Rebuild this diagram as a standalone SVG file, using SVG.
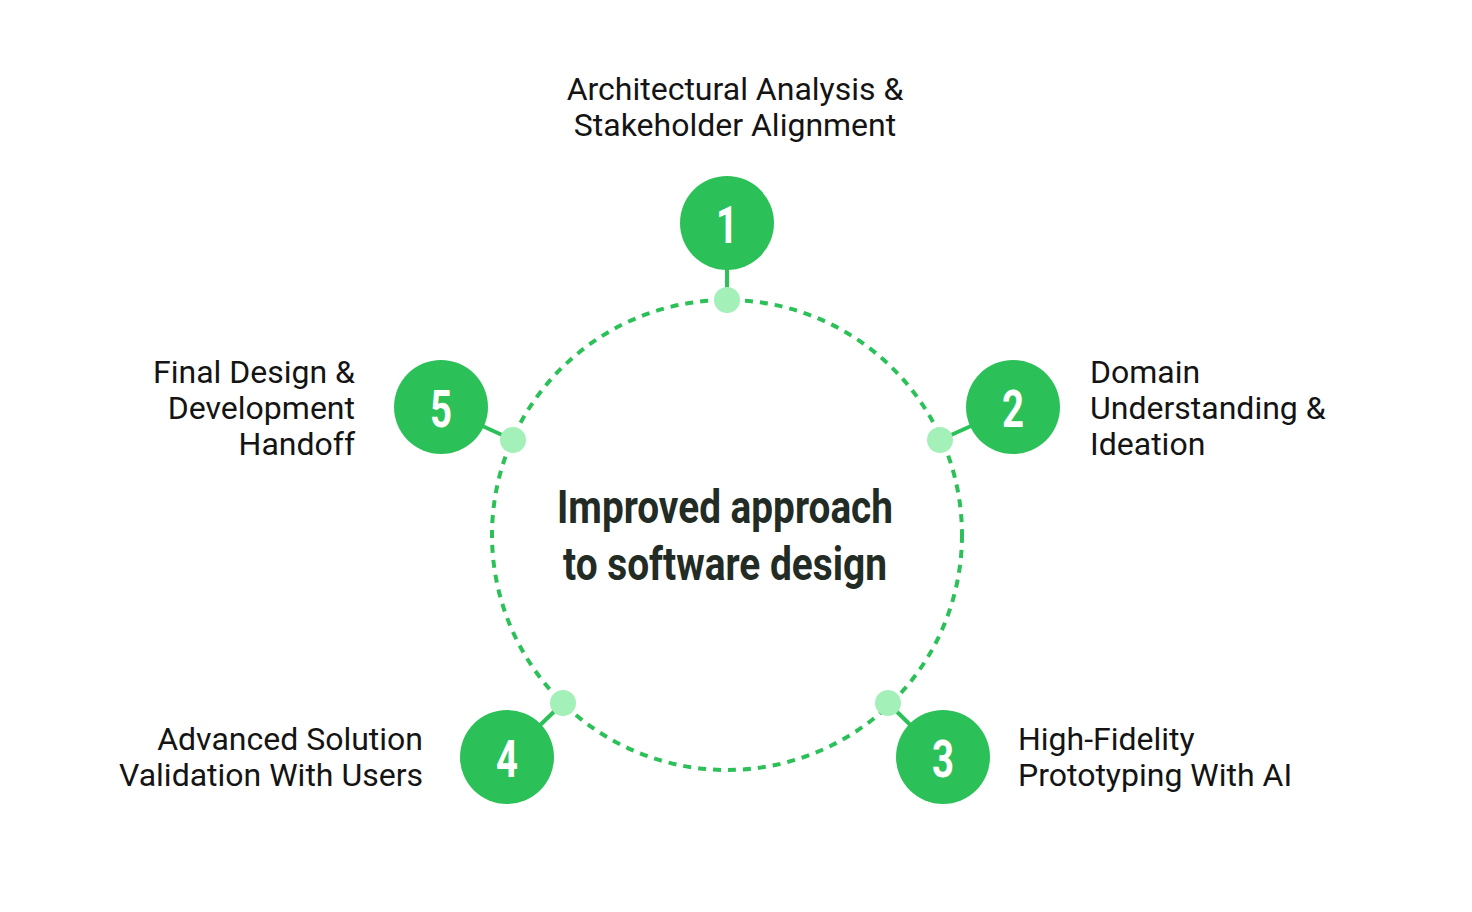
<svg xmlns="http://www.w3.org/2000/svg" width="1472" height="912" viewBox="0 0 1472 912">
  <style>
    .node { fill: #2CC158; }
    .dot { fill: #A3F0B9; }
    .link { stroke: #2CC158; stroke-width: 4; fill: none; }
    .num { font-family: Roboto, "Liberation Sans", sans-serif; font-weight: 700; font-size: 52px; fill: #ffffff; text-anchor: middle; dominant-baseline: central; }
    .label { font-family: Roboto, "Liberation Sans", sans-serif; font-size: 32px; fill: #141414; }
    .title { font-family: Roboto, "Liberation Sans", sans-serif; font-weight: 700; font-size: 46px; fill: #232B25; text-anchor: middle; }
  </style>
  <rect width="1472" height="912" fill="#ffffff"/>
  <g id="connectors">
    <circle cx="727" cy="535" r="235" fill="none" stroke="#2CC158" stroke-width="4" stroke-dasharray="8 7"/>
    <line class="link" x1="727" y1="223" x2="727" y2="300"/>
    <line class="link" x1="1013" y1="407" x2="940" y2="440"/>
    <line class="link" x1="943" y1="757" x2="888" y2="703"/>
    <line class="link" x1="507" y1="757" x2="563" y2="703"/>
    <line class="link" x1="441" y1="407" x2="513" y2="440"/>
  </g>
  <g id="center">
    <text class="title" x="725" y="523" textLength="336" lengthAdjust="spacingAndGlyphs">Improved approach</text>
    <text class="title" x="725" y="580" textLength="324" lengthAdjust="spacingAndGlyphs">to software design</text>
  </g>
  <g id="node1">
    <circle class="node" cx="727" cy="223" r="47"/>
    <circle class="dot" cx="727" cy="300" r="13"/>
    <text class="num" x="727" y="225" textLength="22" lengthAdjust="spacingAndGlyphs">1</text>
    <text class="label" text-anchor="middle"><tspan x="735" y="100">Architectural Analysis &amp;</tspan><tspan x="735" y="136">Stakeholder Alignment</tspan></text>
  </g>
  <g id="node2">
    <circle class="node" cx="1013" cy="407" r="47"/>
    <circle class="dot" cx="940" cy="440" r="13"/>
    <text class="num" x="1013" y="409" textLength="22" lengthAdjust="spacingAndGlyphs">2</text>
    <text class="label"><tspan x="1090" y="383">Domain</tspan><tspan x="1090" y="419">Understanding &amp;</tspan><tspan x="1090" y="455">Ideation</tspan></text>
  </g>
  <g id="node3">
    <circle class="node" cx="943" cy="757" r="47"/>
    <circle class="dot" cx="888" cy="703" r="13"/>
    <text class="num" x="943" y="759" textLength="22" lengthAdjust="spacingAndGlyphs">3</text>
    <text class="label"><tspan x="1018" y="750">High-Fidelity</tspan><tspan x="1018" y="786">Prototyping With AI</tspan></text>
  </g>
  <g id="node4">
    <circle class="node" cx="507" cy="757" r="47"/>
    <circle class="dot" cx="563" cy="703" r="13"/>
    <text class="num" x="507" y="759" textLength="22" lengthAdjust="spacingAndGlyphs">4</text>
    <text class="label" text-anchor="end"><tspan x="423" y="750">Advanced Solution</tspan><tspan x="423" y="786">Validation With Users</tspan></text>
  </g>
  <g id="node5">
    <circle class="node" cx="441" cy="407" r="47"/>
    <circle class="dot" cx="513" cy="440" r="13"/>
    <text class="num" x="441" y="409" textLength="22" lengthAdjust="spacingAndGlyphs">5</text>
    <text class="label" text-anchor="end"><tspan x="355" y="383">Final Design &amp;</tspan><tspan x="355" y="419">Development</tspan><tspan x="355" y="455">Handoff</tspan></text>
  </g>
</svg>
